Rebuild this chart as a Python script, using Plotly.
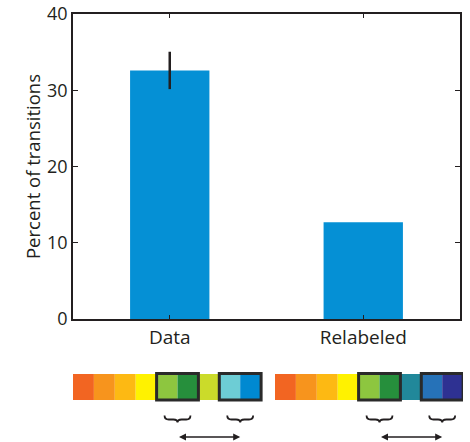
import plotly.graph_objects as go

# ---- data ----
categories = ["Data", "Relabeled"]
values = [32.6, 12.7]
errors = [2.45, 0.0]
y_ticks = [0, 10, 20, 30, 40]

# colour strips under the chart
strip_left = ["#F26522", "#F7941D", "#FDB913", "#FFF200", "#8DC63F",
              "#268F3C", "#CBDB2A", "#6DCDD5", "#0089D1"]
strip_right = ["#F26522", "#F7941D", "#FDB913", "#FFF200", "#8DC63F",
               "#268F3C", "#21889A", "#2672B8", "#2E3192"]
boxed_pairs = [(4, 5), (7, 8)]

BAR_COLOR = "#0590D5"
DARK = "#231F20"
FONT = "Open Sans"

W, H = 470, 442
ML, MR, MT, MB = 73, 7, 14, 0
PW = W - ML - MR
PH = H - MT - MB
plot_bottom_px = 319
plot_right_px = 460
cell_px = 20.9
right_strip_offset = (275 - ML) / cell_px

fig = go.Figure()
fig.add_trace(go.Bar(
    x=categories, y=values, width=0.41,
    marker=dict(color=BAR_COLOR, line=dict(width=0)),
    error_y=dict(type="data", array=errors, visible=True, color=DARK,
                 thickness=2.5, width=0),
    xaxis="x", yaxis="y", showlegend=False,
))

# invisible helper trace for the bottom diagram axes
fig.add_trace(go.Scatter(x=[0], y=[400], mode="markers",
                         marker=dict(opacity=0), xaxis="x2", yaxis="y2",
                         showlegend=False, hoverinfo="skip"))

shapes = []
annotations = []
y_top, y_bot = 374, 400
for offset, colors in [(0.0, strip_left), (right_strip_offset, strip_right)]:
    for i, c in enumerate(colors):
        shapes.append(dict(type="rect", xref="x2", yref="y2",
                           x0=offset + i, x1=offset + i + 1, y0=y_top, y1=y_bot,
                           fillcolor=c, line=dict(width=0), layer="above"))
    centers = []
    for a, b in boxed_pairs:
        shapes.append(dict(type="rect", xref="x2", yref="y2",
                           x0=offset + a, x1=offset + b + 1, y0=y_top - 0.5, y1=y_bot,
                           fillcolor="rgba(0,0,0,0)",
                           line=dict(color="#2A2A2A", width=3), layer="above"))
        xc = offset + (a + b + 1) / 2
        centers.append(xc)
        hw = 0.62
        q = 0.2
        x0, x1 = xc - hw, xc + hw
        path = (f"M {x0},415.5 Q {x0},419.5 {x0+q},419.5 L {xc-q},419.5 "
                f"Q {xc},419.5 {xc},422.5 Q {xc},419.5 {xc+q},419.5 "
                f"L {x1-q},419.5 Q {x1},419.5 {x1},415.5")
        shapes.append(dict(type="path", xref="x2", yref="y2", path=path,
                           line=dict(color=DARK, width=1.8), layer="above"))
    annotations.append(dict(xref="x2", yref="y2", axref="x2", ayref="y2",
                            x=centers[1], y=437, ax=centers[0], ay=437,
                            text="", showarrow=True, arrowhead=2,
                            startarrowhead=2, arrowside="end+start",
                            arrowwidth=1.4, arrowsize=1, startarrowsize=1,
                            arrowcolor=DARK))

fig.update_layout(
    width=W, height=H,
    margin=dict(l=ML, r=MR, t=MT, b=MB, autoexpand=False),
    paper_bgcolor="white", plot_bgcolor="white",
    font=dict(family=FONT, size=18, color=DARK),
    xaxis=dict(domain=[0, (plot_right_px - ML) / PW], range=[-0.5, 1.5],
               type="category", showline=True, linecolor=DARK, linewidth=1.8,
               mirror="ticks", ticks="inside", ticklen=4, tickcolor=DARK,
               showgrid=False, zeroline=False, anchor="y", automargin=False,
               tickfont=dict(size=19, family=FONT)),
    yaxis=dict(domain=[(H - MB - plot_bottom_px) / PH, 1], range=[0, 40],
               tickvals=y_ticks, showline=True, linecolor=DARK, linewidth=1.8,
               mirror="ticks", ticks="inside", ticklen=5, tickcolor=DARK,
               showgrid=False, zeroline=False, anchor="x", automargin=False,
               title=dict(text="Percent of transitions", standoff=1,
                          font=dict(size=18.5, family=FONT)),
               tickfont=dict(size=18, family=FONT)),
    xaxis2=dict(domain=[0, 1], range=[0, PW / cell_px], visible=False,
                anchor="y2", fixedrange=True),
    yaxis2=dict(domain=[0, (H - MB - 340) / PH], range=[H - MB, 340],
                visible=False, anchor="x2", fixedrange=True),
    shapes=shapes, annotations=annotations,
    bargap=0.2,
)

fig.write_html("out.html", config={"displayModeBar": False},
               post_script="document.body.style.margin='0';document.body.style.padding='0';document.body.style.overflow='hidden';")
